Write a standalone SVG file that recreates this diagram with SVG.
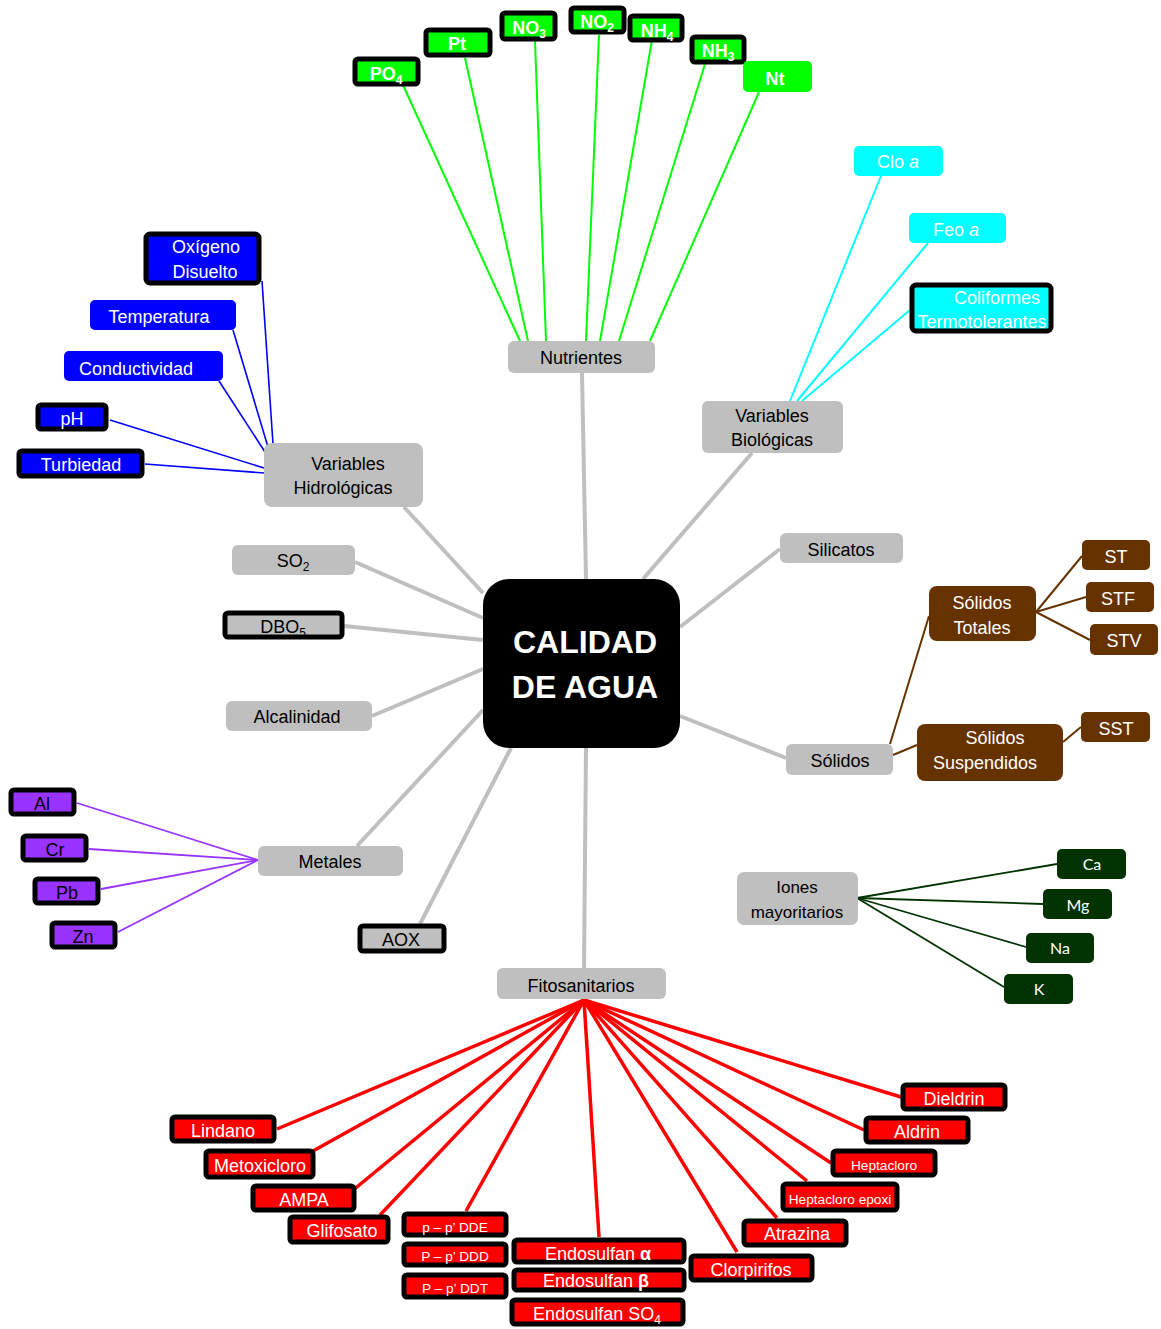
<svg xmlns="http://www.w3.org/2000/svg" width="1161" height="1329" viewBox="0 0 1161 1329">
<style>
text{font-family:"Liberation Sans",Arial,sans-serif;text-anchor:middle}
.g{fill:#bfbfbf}
.gt{fill:#000;font-size:18px}
.bd{stroke:#000;stroke-width:5}
.gr{fill:#00ff00}
.grt{fill:#fff;font-size:18px;font-weight:bold}
.bl{fill:#0000ff}
.wt{fill:#fff;font-size:18px}
.cy{fill:#00ffff}
.br{fill:#663300}
.pu{fill:#9933ff}
.pt{fill:#000;font-size:18px}
.dg{fill:#003300}
.dgt{fill:#fff;font-size:16px;font-family:Lato,"Open Sans",sans-serif}
.rd{fill:#ff0000}
.sm{font-size:13.7px}
.sub{font-size:12px}
</style>
<g id="connectors" fill="none">
 <g stroke="#bfbfbf" stroke-width="4">
  <line x1="586" y1="579" x2="582" y2="373"/>
  <line x1="643" y1="579" x2="752" y2="453"/>
  <line x1="483" y1="593" x2="404" y2="507"/>
  <line x1="483" y1="618" x2="355" y2="562"/>
  <line x1="483" y1="640" x2="344" y2="626"/>
  <line x1="483" y1="669" x2="372" y2="716"/>
  <line x1="680" y1="627" x2="780" y2="549"/>
  <line x1="680" y1="716" x2="786" y2="758"/>
  <line x1="483" y1="710" x2="357" y2="846"/>
  <line x1="511" y1="748" x2="420" y2="924"/>
  <line x1="586" y1="748" x2="584" y2="968"/>
 </g>
 <g stroke="#00ff00" stroke-width="2">
  <line x1="403" y1="85" x2="520" y2="341"/>
  <line x1="465" y1="58" x2="528" y2="341"/>
  <line x1="535" y1="41" x2="546" y2="341"/>
  <line x1="599" y1="35" x2="586" y2="341"/>
  <line x1="652" y1="40" x2="600" y2="341"/>
  <line x1="705" y1="64" x2="619" y2="341"/>
  <line x1="759" y1="92" x2="650" y2="341"/>
 </g>
 <g stroke="#0000ff" stroke-width="1.6">
  <line x1="262" y1="281" x2="273" y2="444"/>
  <line x1="233" y1="330" x2="268" y2="447"/>
  <line x1="219" y1="381" x2="265" y2="452"/>
  <line x1="110" y1="420" x2="264" y2="468"/>
  <line x1="145" y1="464" x2="264" y2="473"/>
 </g>
 <g stroke="#00ffff" stroke-width="2">
  <line x1="881" y1="176" x2="790" y2="401"/>
  <line x1="928" y1="243" x2="797" y2="401"/>
  <line x1="910" y1="310" x2="802" y2="401"/>
 </g>
 <g stroke="#663300" stroke-width="2">
  <line x1="890" y1="744" x2="929" y2="616"/>
  <line x1="893" y1="755" x2="917" y2="745"/>
  <line x1="1036" y1="612" x2="1082" y2="556"/>
  <line x1="1036" y1="612" x2="1086" y2="597"/>
  <line x1="1036" y1="612" x2="1090" y2="640"/>
  <line x1="1063" y1="742" x2="1081" y2="727"/>
 </g>
 <g stroke="#9933ff" stroke-width="1.8">
  <line x1="77" y1="803" x2="258" y2="860"/>
  <line x1="89" y1="849" x2="258" y2="860"/>
  <line x1="101" y1="889" x2="258" y2="860"/>
  <line x1="118" y1="932" x2="258" y2="860"/>
 </g>
 <g stroke="#003300" stroke-width="1.8">
  <line x1="857" y1="898" x2="1057" y2="864"/>
  <line x1="857" y1="898" x2="1043" y2="904"/>
  <line x1="857" y1="898" x2="1026" y2="947"/>
  <line x1="857" y1="898" x2="1004" y2="987"/>
 </g>
 <g stroke="#ff0000" stroke-width="3.5">
  <line x1="584" y1="1000" x2="277" y2="1129"/>
  <line x1="584" y1="1000" x2="313" y2="1151"/>
  <line x1="584" y1="1000" x2="352" y2="1191"/>
  <line x1="584" y1="1000" x2="380" y2="1215"/>
  <line x1="584" y1="1000" x2="466" y2="1211"/>
  <line x1="584" y1="1000" x2="599" y2="1237"/>
  <line x1="584" y1="1000" x2="737" y2="1252"/>
  <line x1="584" y1="1000" x2="777" y2="1218"/>
  <line x1="584" y1="1000" x2="807" y2="1181"/>
  <line x1="584" y1="1000" x2="831" y2="1163"/>
  <line x1="584" y1="1000" x2="864" y2="1130"/>
  <line x1="584" y1="1000" x2="901" y2="1097"/>
 </g>
</g>

<g id="center"><rect x="483" y="579" width="197" height="169" rx="26" fill="#000"/>
 <text x="585" y="653" fill="#fff" font-size="32" font-weight="bold">CALIDAD</text>
 <text x="585" y="698" fill="#fff" font-size="32" font-weight="bold">DE AGUA</text></g>

<g id="nutrientes"><rect class="g" x="508" y="341" width="147" height="32" rx="6"/><text class="gt" x="581" y="364" font-size="19">Nutrientes</text></g>
<g id="var-bio"><rect class="g" x="702" y="401" width="141" height="52" rx="6"/><text class="gt" x="772" y="422">Variables</text><text class="gt" x="772" y="446">Biológicas</text></g>
<g id="var-hidro"><rect class="g" x="264" y="443" width="159" height="64" rx="8"/><text class="gt" x="348" y="470">Variables</text><text class="gt" x="343" y="494">Hidrológicas</text></g>
<g id="silicatos"><rect class="g" x="780" y="533" width="123" height="30" rx="6"/><text class="gt" x="841" y="556">Silicatos</text></g>
<g id="so2"><rect class="g" x="232" y="545" width="123" height="30" rx="6"/><text class="gt" x="293" y="567">SO<tspan class="sub" dy="4">2</tspan></text></g>
<g id="dbo5"><rect class="g bd" x="225" y="613" width="117" height="24" rx="3" stroke-width="4"/><text class="gt" x="283" y="633">DBO<tspan class="sub" dy="4">5</tspan></text></g>
<g id="alcalinidad"><rect class="g" x="226" y="701" width="146" height="30" rx="6"/><text class="gt" x="297" y="723">Alcalinidad</text></g>
<g id="solidos"><rect class="g" x="786" y="744" width="107" height="31" rx="6"/><text class="gt" x="840" y="767">Sólidos</text></g>
<g id="metales"><rect class="g" x="258" y="846" width="145" height="30" rx="6"/><text class="gt" x="330" y="868">Metales</text></g>
<g id="aox"><rect class="g bd" x="360" y="926" width="84" height="25" rx="3" stroke-width="4"/><text class="gt" x="401" y="946">AOX</text></g>
<g id="fitosanitarios"><rect class="g" x="497" y="968" width="169" height="31" rx="6"/><text class="gt" x="581" y="992" font-size="20">Fitosanitarios</text></g>
<g id="iones"><rect class="g" x="737" y="872" width="121" height="53" rx="7"/><text x="797" y="893" font-size="17" fill="#000" font-family="Lato,'Open Sans',sans-serif">Iones</text><text x="797" y="918" font-size="17" fill="#000" font-family="Lato,'Open Sans',sans-serif">mayoritarios</text></g>

<g id="po4"><rect class="gr bd" x="355" y="59" width="63" height="25" rx="3"/><text class="grt" x="386" y="80">PO<tspan class="sub" dy="4">4</tspan></text></g>
<g id="pt"><rect class="gr bd" x="426" y="30" width="64" height="25" rx="3"/><text class="grt" x="457" y="50">Pt</text></g>
<g id="no3"><rect class="gr bd" x="502" y="13" width="53" height="26" rx="3"/><text class="grt" x="529" y="34">NO<tspan class="sub" dy="4">3</tspan></text></g>
<g id="no2"><rect class="gr bd" x="571" y="8" width="53" height="24" rx="3"/><text class="grt" x="597" y="28">NO<tspan class="sub" dy="4">2</tspan></text></g>
<g id="nh4"><rect class="gr bd" x="630" y="16" width="52" height="24" rx="3"/><text class="grt" x="657" y="37">NH<tspan class="sub" dy="4">4</tspan></text></g>
<g id="nh3"><rect class="gr bd" x="692" y="37" width="52" height="25" rx="3"/><text class="grt" x="718" y="57">NH<tspan class="sub" dy="4">3</tspan></text></g>
<g id="nt"><rect class="gr" x="743" y="61" width="69" height="31" rx="5"/><text class="grt" x="775" y="85">Nt</text></g>

<g id="oxigeno"><rect class="bl bd" x="146" y="234" width="113" height="49" rx="4"/><text class="wt" x="206" y="253">Oxígeno</text><text class="wt" x="205" y="278">Disuelto</text></g>
<g id="temperatura"><rect class="bl" x="90" y="300" width="146" height="30" rx="5"/><text class="wt" x="159" y="323">Temperatura</text></g>
<g id="conductividad"><rect class="bl" x="64" y="351" width="159" height="30" rx="5"/><text class="wt" x="136" y="375">Conductividad</text></g>
<g id="ph"><rect class="bl bd" x="38" y="405" width="68" height="24" rx="3"/><text class="wt" x="72" y="425">pH</text></g>
<g id="turbiedad"><rect class="bl bd" x="19" y="451" width="123" height="25" rx="3"/><text class="wt" x="81" y="471">Turbiedad</text></g>

<g id="clo-a"><rect class="cy" x="854" y="146" width="89" height="30" rx="5"/><text class="wt" x="898" y="168">Clo <tspan font-style="italic">a</tspan></text></g>
<g id="feo-a"><rect class="cy" x="909" y="213" width="97" height="30" rx="5"/><text class="wt" x="956" y="236">Feo <tspan font-style="italic">a</tspan></text></g>
<g id="coliformes"><rect class="cy bd" x="912" y="285" width="139" height="46" rx="4"/><text class="wt" x="997" y="304">Coliformes</text><text class="wt" x="982" y="328">Termotolerantes</text></g>

<g id="solidos-totales"><rect class="br" x="929" y="586" width="107" height="55" rx="8"/><text class="wt" x="982" y="609">Sólidos</text><text class="wt" x="982" y="634">Totales</text></g>
<g id="solidos-suspendidos"><rect class="br" x="917" y="724" width="146" height="57" rx="8"/><text class="wt" x="995" y="744">Sólidos</text><text class="wt" x="985" y="769">Suspendidos</text></g>
<g id="st"><rect class="br" x="1082" y="540" width="68" height="30" rx="5"/><text class="wt" x="1116" y="563">ST</text></g>
<g id="stf"><rect class="br" x="1086" y="582" width="68" height="30" rx="5"/><text class="wt" x="1118" y="605">STF</text></g>
<g id="stv"><rect class="br" x="1090" y="624" width="68" height="31" rx="5"/><text class="wt" x="1124" y="647">STV</text></g>
<g id="sst"><rect class="br" x="1081" y="712" width="69" height="30" rx="5"/><text class="wt" x="1116" y="735">SST</text></g>

<g id="al"><rect class="pu bd" x="11" y="790" width="63" height="24" rx="3"/><text class="pt" x="42" y="810">Al</text></g>
<g id="cr"><rect class="pu bd" x="23" y="836" width="63" height="24" rx="3"/><text class="pt" x="55" y="856">Cr</text></g>
<g id="pb"><rect class="pu bd" x="35" y="879" width="63" height="24" rx="3"/><text class="pt" x="67" y="899">Pb</text></g>
<g id="zn"><rect class="pu bd" x="52" y="923" width="63" height="24" rx="3"/><text class="pt" x="83" y="943">Zn</text></g>

<g id="ca"><rect class="dg" x="1057" y="849" width="69" height="30" rx="5"/><text class="dgt" x="1092" y="870">Ca</text></g>
<g id="mg"><rect class="dg" x="1043" y="889" width="69" height="30" rx="5"/><text class="dgt" x="1078" y="911">Mg</text></g>
<g id="na"><rect class="dg" x="1026" y="933" width="68" height="30" rx="5"/><text class="dgt" x="1060" y="954">Na</text></g>
<g id="k"><rect class="dg" x="1004" y="974" width="69" height="30" rx="5"/><text class="dgt" x="1039" y="995">K</text></g>

<g id="lindano"><rect class="rd bd" x="172" y="1117" width="102" height="24" rx="3"/><text class="wt" x="223" y="1137">Lindano</text></g>
<g id="metoxicloro"><rect class="rd bd" x="206" y="1151" width="107" height="26" rx="3"/><text class="wt" x="260" y="1172">Metoxicloro</text></g>
<g id="ampa"><rect class="rd bd" x="253" y="1186" width="101" height="24" rx="3"/><text class="wt" x="304" y="1206">AMPA</text></g>
<g id="glifosato"><rect class="rd bd" x="290" y="1217" width="98" height="25" rx="3"/><text class="wt" x="342" y="1237">Glifosato</text></g>
<g id="dde"><rect class="rd bd" x="404" y="1214" width="102" height="21" rx="3"/><text class="wt sm" x="455" y="1232">p – p’ DDE</text></g>
<g id="ddd"><rect class="rd bd" x="404" y="1244" width="102" height="21" rx="3"/><text class="wt sm" x="455" y="1261">P – p’ DDD</text></g>
<g id="ddt"><rect class="rd bd" x="404" y="1275" width="102" height="22" rx="3"/><text class="wt sm" x="455" y="1293">P – p’ DDT</text></g>
<g id="endo-a"><rect class="rd bd" x="514" y="1240" width="170" height="22" rx="3"/><text class="wt" x="598" y="1260">Endosulfan <tspan font-weight="bold">α</tspan></text></g>
<g id="endo-b"><rect class="rd bd" x="514" y="1270" width="170" height="20" rx="3"/><text class="wt" x="596" y="1287">Endosulfan <tspan font-weight="bold">β</tspan></text></g>
<g id="endo-so4"><rect class="rd bd" x="512" y="1300" width="171" height="24" rx="3"/><text class="wt" x="597" y="1320">Endosulfan SO<tspan class="sub" dy="4">4</tspan></text></g>
<g id="clorpirifos"><rect class="rd bd" x="691" y="1256" width="121" height="24" rx="3"/><text class="wt" x="751" y="1276">Clorpirifos</text></g>
<g id="atrazina"><rect class="rd bd" x="744" y="1221" width="102" height="24" rx="3"/><text class="wt" x="797" y="1240">Atrazina</text></g>
<g id="hepta-epoxi"><rect class="rd bd" x="783" y="1184" width="114" height="26" rx="3"/><text class="wt sm" x="840" y="1204">Heptacloro epoxi</text></g>
<g id="heptacloro"><rect class="rd bd" x="833" y="1151" width="102" height="24" rx="3"/><text class="wt sm" x="884" y="1170">Heptacloro</text></g>
<g id="aldrin"><rect class="rd bd" x="866" y="1118" width="102" height="24" rx="3"/><text class="wt" x="917" y="1138">Aldrin</text></g>
<g id="dieldrin"><rect class="rd bd" x="903" y="1085" width="102" height="24" rx="3"/><text class="wt" x="954" y="1105">Dieldrin</text></g>
</svg>
